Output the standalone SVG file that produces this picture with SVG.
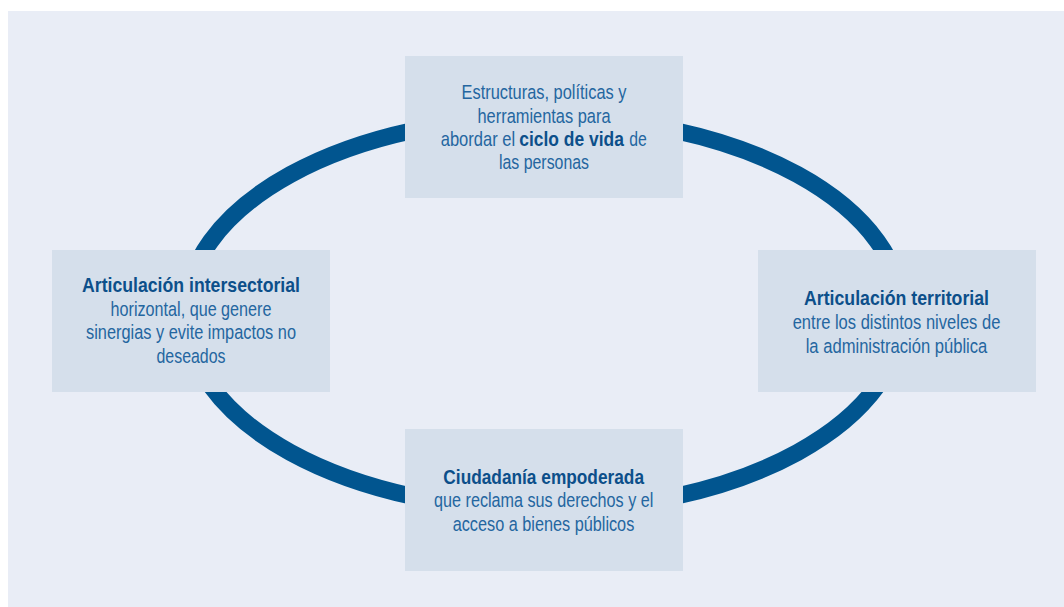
<svg xmlns="http://www.w3.org/2000/svg" width="1064" height="607" viewBox="0 0 1064 607">
<style>
.bg{fill:#e9edf6}
.box{fill:#d5dfeb}
.ring{fill:none;stroke:#01558f;stroke-width:17}
text{font-family:"Liberation Sans",Arial,sans-serif;font-size:20.5px;fill:#2466a0;text-anchor:middle}
.b{font-weight:bold;fill:#0c4f8a}
.s{text-anchor:start}
</style>
<rect class="bg" x="8" y="11" width="1056" height="596"/>
<g id="connectors">
<ellipse class="ring" cx="544" cy="313.5" rx="358.5" ry="196.5"/>
</g>
<g id="node-top">
<rect class="box" x="405" y="56" width="278" height="142"/>
<text x="544" y="99.3" textLength="165" lengthAdjust="spacingAndGlyphs">Estructuras, políticas y</text>
<text x="544" y="122.7" textLength="133" lengthAdjust="spacingAndGlyphs">herramientas para</text>
<text class="s" transform="translate(440.7,146) scale(0.807,1)">abordar el</text>
<text class="s b" transform="translate(519.3,146) scale(0.85,1)">ciclo de vida</text>
<text class="s" transform="translate(629.3,146) scale(0.77,1)">de</text>
<text x="544" y="169" textLength="90" lengthAdjust="spacingAndGlyphs">las personas</text>
</g>
<g id="node-left">
<rect class="box" x="52" y="250" width="278" height="142"/>
<text class="b" x="191" y="292.3" textLength="218" lengthAdjust="spacingAndGlyphs">Articulación intersectorial</text>
<text x="191" y="315.7" textLength="161" lengthAdjust="spacingAndGlyphs">horizontal, que genere</text>
<text x="191" y="339.3" textLength="210" lengthAdjust="spacingAndGlyphs">sinergias y evite impactos no</text>
<text x="191" y="362.7" textLength="69" lengthAdjust="spacingAndGlyphs">deseados</text>
</g>
<g id="node-right">
<rect class="box" x="758" y="250" width="278" height="142"/>
<text class="b" x="896.5" y="305" textLength="185" lengthAdjust="spacingAndGlyphs">Articulación territorial</text>
<text x="896.5" y="329.3" textLength="207.7" lengthAdjust="spacingAndGlyphs">entre los distintos niveles de</text>
<text x="896.5" y="353.3" textLength="181.6" lengthAdjust="spacingAndGlyphs">la administración pública</text>
</g>
<g id="node-bottom">
<rect class="box" x="405" y="429" width="278" height="142"/>
<text class="b" x="543.7" y="484" textLength="200.7" lengthAdjust="spacingAndGlyphs">Ciudadanía empoderada</text>
<text x="543.7" y="507.3" textLength="219.3" lengthAdjust="spacingAndGlyphs">que reclama sus derechos y el</text>
<text x="543.5" y="531" textLength="181.6" lengthAdjust="spacingAndGlyphs">acceso a bienes públicos</text>
</g>
</svg>
